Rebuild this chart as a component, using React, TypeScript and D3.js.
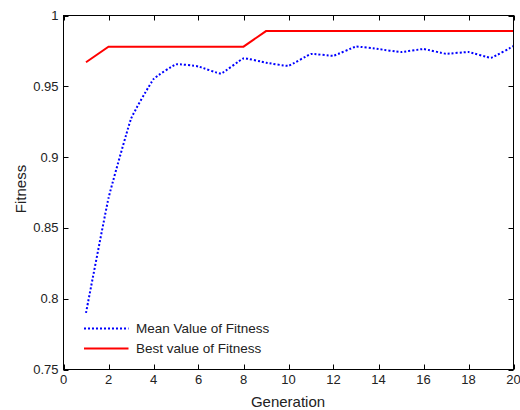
import React from "react";
import * as d3 from "d3";

const generations = d3.range(1, 21);
const meanFitness = [0.790, 0.871, 0.927, 0.955, 0.9655, 0.964, 0.959, 0.9697, 0.9667, 0.9645,
  0.9728, 0.9716, 0.978, 0.9763, 0.9742, 0.9763, 0.973, 0.9742, 0.9702, 0.9784];
const bestFitness = [0.967, 0.978, 0.978, 0.978, 0.978, 0.978, 0.978, 0.978, 0.989, 0.989,
  0.989, 0.989, 0.989, 0.989, 0.989, 0.989, 0.989, 0.989, 0.989, 0.989];
const xTicks = [0, 2, 4, 6, 8, 10, 12, 14, 16, 18, 20];
const yTicks = [0.75, 0.8, 0.85, 0.9, 0.95, 1];
const legendLabels = ["Mean Value of Fitness", "Best value of Fitness"];

const W = 520, H = 410;
const L = 63.5, R = 513.5, T = 15.5, B = 369.5;
const FONT = "'Liberation Sans', Arial, Helvetica, sans-serif";

export default function App() {
  const x = d3.scaleLinear().domain([0, 20]).range([L, R]);
  const y = d3.scaleLinear().domain([0.75, 1]).range([B, T]);
  const meanLine = d3.line<number>().x((_, i) => x(generations[i])).y(d => y(d)).curve(d3.curveCardinal.tension(0.7));
  const bestLine = d3.line<number>().x((_, i) => x(generations[i])).y(d => y(d));
  const fmtY = (v: number) => (v === 1 ? "1" : String(+v.toFixed(2)));
  const tick = 5;
  return (
    <svg width={W} height={H} style={{ position: "absolute", left: 0, top: 0, background: "#fff" }}>
      <rect x={0} y={0} width={W} height={H} fill="#fff" />
      <path d={meanLine(meanFitness) || ""} fill="none" stroke="#0000ff" strokeWidth={2} strokeDasharray="2 2" />
      <path d={bestLine(bestFitness) || ""} fill="none" stroke="#ff0000" strokeWidth={2} />
      <rect x={L} y={T} width={R - L} height={B - T} fill="none" stroke="#000" strokeWidth={1} />
      {xTicks.map(t => (
        <g key={"x" + t}>
          <line x1={Math.round(x(t)) + 0.5} x2={Math.round(x(t)) + 0.5} y1={B} y2={B - tick} stroke="#000" />
          <line x1={Math.round(x(t)) + 0.5} x2={Math.round(x(t)) + 0.5} y1={T} y2={T + tick} stroke="#000" />
          <text x={x(t)} y={384} textAnchor="middle" fontFamily={FONT} fontSize={13} fill="#222">{t}</text>
        </g>
      ))}
      {yTicks.map(t => (
        <g key={"y" + t}>
          <line x1={L} x2={L + tick} y1={Math.round(y(t)) + 0.5} y2={Math.round(y(t)) + 0.5} stroke="#000" />
          <line x1={R} x2={R - tick} y1={Math.round(y(t)) + 0.5} y2={Math.round(y(t)) + 0.5} stroke="#000" />
          <text x={58.5} y={y(t) + 4.5} textAnchor="end" fontFamily={FONT} fontSize={13} fill="#222">{fmtY(t)}</text>
        </g>
      ))}
      <text x={288} y={407} textAnchor="middle" fontFamily={FONT} fontSize={15} fill="#222">Generation</text>
      <text transform="translate(25.5,189) rotate(-90)" textAnchor="middle" fontFamily={FONT} fontSize={15} fill="#222">Fitness</text>
      <line x1={84} x2={128.5} y1={328.5} y2={328.5} stroke="#0000ff" strokeWidth={2} strokeDasharray="2 2" />
      <text x={136} y={332.5} fontFamily={FONT} fontSize={13.5} fill="#222">{legendLabels[0]}</text>
      <line x1={84} x2={128.5} y1={348.5} y2={348.5} stroke="#ff0000" strokeWidth={2} />
      <text x={136} y={353} fontFamily={FONT} fontSize={13.5} fill="#222">{legendLabels[1]}</text>
    </svg>
  );
}
